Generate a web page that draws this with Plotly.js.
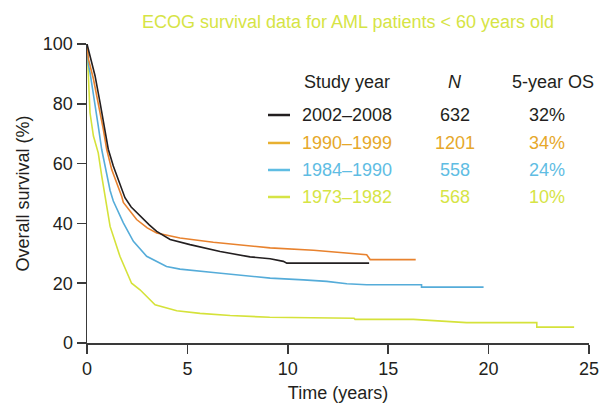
<!DOCTYPE html>
<html>
<head>
<meta charset="utf-8">
<script src="https://cdn.plot.ly/plotly-3.0.1.min.js"></script>
<style>html,body{margin:0;padding:0;background:#fff;}#chart{width:602px;height:403px;}</style>
</head>
<body>
<div id="chart"></div>
<script>
// ---- Data ----
const studyYears = ["2002\u20132008", "1990\u20131999", "1984\u20131990", "1973\u20131982"];
const patientsN = ["632", "1201", "558", "568"];
const fiveYearOS = ["32%", "34%", "24%", "10%"];

const time2002 = [0, 0.15, 0.4, 0.65, 0.9, 1.06, 1.31, 1.56, 1.89, 2.2, 2.64, 3.1, 3.47, 4.14, 5.13, 6.63, 8.12, 9.12, 9.78, 9.95, 14.05];
const surv2002 = [100, 96, 89.4, 80.4, 71.5, 64.8, 59.2, 54.7, 48.6, 45.5, 42.4, 39.5, 37.3, 34.6, 32.9, 30.6, 28.8, 28.2, 27.3, 26.7, 26.7];

const time1990 = [0, 0.07, 0.32, 0.56, 0.81, 0.98, 1.23, 1.73, 1.81, 2.47, 3.0, 3.47, 4.63, 6.29, 7.95, 9.12, 11.28, 12.94, 13.93, 14.1, 16.37];
const surv1990 = [100, 95, 88.3, 80.4, 71.5, 64.8, 58, 49, 47, 41.3, 38.5, 36.8, 35.1, 33.7, 32.6, 31.8, 31.0, 30.1, 29.5, 27.9, 27.9];

const time1984 = [0, 0.07, 0.15, 0.4, 0.56, 0.73, 0.98, 1.15, 1.31, 1.81, 2.31, 2.97, 3.96, 4.63, 6.29, 7.95, 9.12, 10.78, 11.94, 12.94, 13.93, 16.66, 16.66, 19.75];
const surv1984 = [100, 93, 90.5, 80.4, 72.6, 64.8, 56, 51, 47.5, 40.2, 34, 29, 25.6, 24.7, 23.6, 22.5, 21.7, 21.1, 20.6, 19.8, 19.5, 19.5, 18.7, 18.7];

const time1973 = [0, 0.03, 0.07, 0.15, 0.32, 0.56, 0.73, 0.9, 1.15, 1.64, 2.22, 2.64, 3.39, 4.47, 5.63, 7.13, 9.1, 13.3, 13.35, 16.25, 17.6, 18.9, 22.4, 22.4, 24.26];
const surv1973 = [100, 95, 88.3, 77, 69.2, 63.6, 56, 48.5, 39, 29, 20, 17.8, 12.8, 10.8, 9.9, 9.2, 8.6, 8.3, 7.9, 7.9, 7.4, 6.8, 6.8, 5.3, 5.3];

const xTicks = [0, 5, 10, 15, 20, 25];
const yTicks = [0, 20, 40, 60, 80, 100];

// ---- Styles ----
const lineColors = ["#231f20", "#e8822e", "#55acd9", "#d5e23a"];
const sampleColors = ["#231f20", "#e8b030", "#5fbde3", "#d6e445"];
const textColors = ["#231f20", "#e6a82a", "#5fbde3", "#d6e445"];
const FONT = "Liberation Sans, Arial, Helvetica, sans-serif";

const series = [
  [time2002, surv2002],
  [time1990, surv1990],
  [time1984, surv1984],
  [time1973, surv1973]
];

// draw oldest first so the newest sits on top
const traces = [];
for (let i = series.length - 1; i >= 0; i--) {
  traces.push({
    x: series[i][0], y: series[i][1], type: "scatter", mode: "lines",
    line: {color: lineColors[i], width: 1.6, shape: "linear"},
    name: studyYears[i], showlegend: false, hoverinfo: "skip", cliponaxis: false
  });
}

// legend table (paper coordinates)
const rowY = [0.7625, 0.669, 0.5786, 0.4883];
const annotations = [
  {text: "Study year", x: 0.428, y: 0.873, xanchor: "left", yanchor: "middle", font: {color: "#231f20"}},
  {text: "<i>N</i>", x: 0.733, y: 0.873, xanchor: "center", yanchor: "middle", font: {color: "#231f20"}},
  {text: "5-year OS", x: 0.928, y: 0.873, xanchor: "center", yanchor: "middle", font: {color: "#231f20"}}
];
const shapes = [];
for (let i = 0; i < studyYears.length; i++) {
  annotations.push({text: studyYears[i], x: 0.4243, y: rowY[i], xanchor: "left", yanchor: "middle", font: {color: textColors[i]}});
  annotations.push({text: patientsN[i], x: 0.733, y: rowY[i], xanchor: "center", yanchor: "middle", font: {color: textColors[i]}});
  annotations.push({text: fiveYearOS[i], x: 0.916, y: rowY[i], xanchor: "center", yanchor: "middle", font: {color: textColors[i]}});
  shapes.push({type: "line", xref: "paper", yref: "paper", x0: 0.3606, x1: 0.4044, y0: rowY[i], y1: rowY[i],
    line: {color: sampleColors[i], width: 2.5}});
}
annotations.forEach(a => {
  a.xref = "paper"; a.yref = "paper"; a.showarrow = false;
  a.font = Object.assign({family: FONT, size: 18}, a.font);
});

const axisCommon = {
  showline: true, linecolor: "#3a3a3a", linewidth: 1.5,
  ticks: "outside", ticklen: 9, tickwidth: 1.5, tickcolor: "#3a3a3a",
  showgrid: false, zeroline: false,
  tickfont: {family: FONT, size: 18, color: "#231f20"},
  fixedrange: true
};

const layout = {
  width: 602, height: 403,
  margin: {l: 87, r: 13, t: 44, b: 60},
  paper_bgcolor: "#ffffff", plot_bgcolor: "#ffffff",
  title: {text: "ECOG survival data for AML patients < 60 years old",
    font: {family: FONT, size: 18, color: "#d6e445"},
    x: 0.52, xref: "paper", xanchor: "center", y: 0.945, yref: "container", yanchor: "middle"},
  xaxis: Object.assign({}, axisCommon, {
    range: [0, 25], tickvals: xTicks, ticktext: xTicks.map(String),
    title: {text: "Time (years)", font: {family: FONT, size: 18, color: "#231f20"}, standoff: 10}
  }),
  yaxis: Object.assign({}, axisCommon, {
    range: [0, 100], tickvals: yTicks, ticktext: yTicks.map(String),
    title: {text: "Overall survival (%)", font: {family: FONT, size: 18, color: "#231f20"}, standoff: 8}
  }),
  annotations: annotations,
  shapes: shapes,
  showlegend: false
};

Plotly.newPlot("chart", traces, layout, {staticPlot: true, displayModeBar: false});
</script>
</body>
</html>
